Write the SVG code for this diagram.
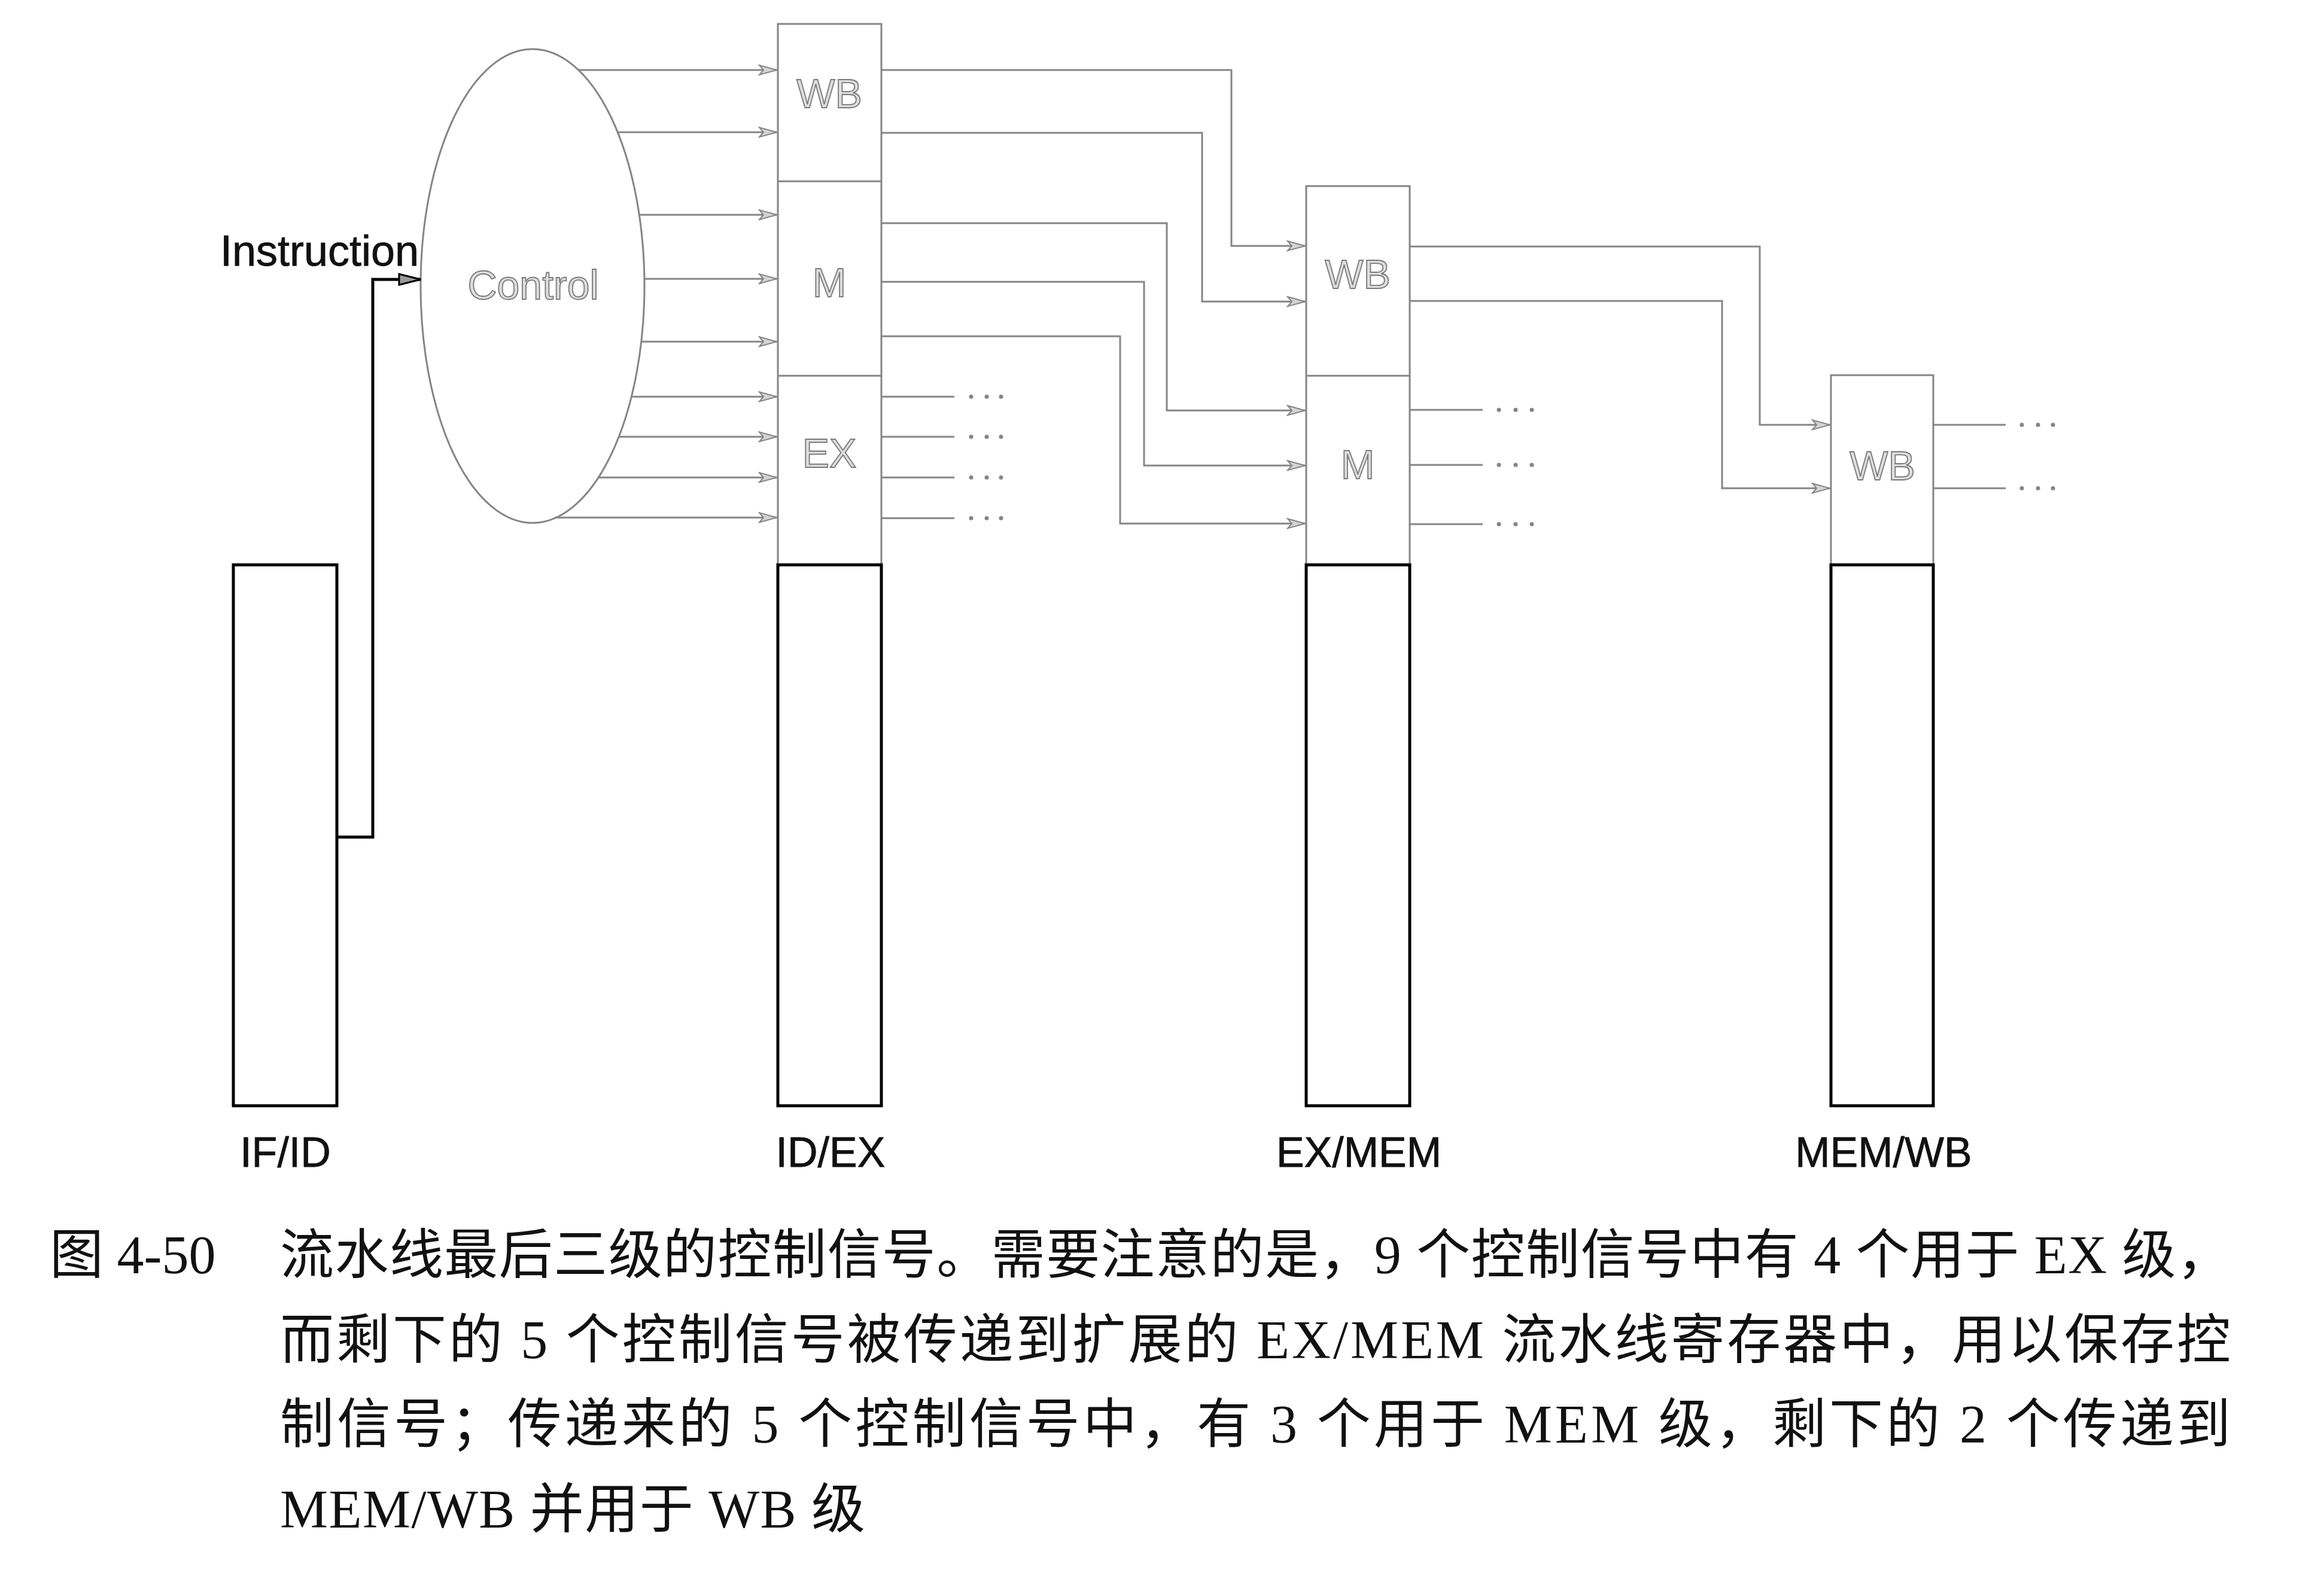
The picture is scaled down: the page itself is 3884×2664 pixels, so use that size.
<svg xmlns="http://www.w3.org/2000/svg" width="3884" height="2664" viewBox="0 0 3884 2664">
  <style>
    .sig { fill: none; stroke: #858585; stroke-width: 3; }
    .sigA { fill: none; stroke: #858585; stroke-width: 3; marker-end: url(#ah); }
    .ctl { fill: #fff; stroke: #858585; stroke-width: 3; }
    .reg { fill: #fff; stroke: #000; stroke-width: 5; }
    .ghost { font-family: "Liberation Sans", Arial, sans-serif; font-size: 68px; fill: #dedede; stroke: #7a7a7a; stroke-width: 1.8; text-anchor: middle; }
    .lbl { font-family: "Liberation Sans", Arial, sans-serif; font-size: 70px; fill: #111; stroke: #111; stroke-width: 0.8; text-anchor: middle; }
    .cap { font-family: "Liberation Serif", "Noto Sans CJK SC", serif; font-size: 90px; fill: #111; }
    .dot { fill: #858585; }
  </style>
  <defs>
    <marker id="ah" markerUnits="userSpaceOnUse" markerWidth="34" markerHeight="20" refX="31" refY="10" orient="auto">
      <path d="M2,2 L31,10 L2,18 L9,10 z" fill="#d4d4d4" stroke="#858585" stroke-width="2"/>
    </marker>
    <marker id="ahk" markerUnits="userSpaceOnUse" markerWidth="40" markerHeight="24" refX="38" refY="12" orient="auto">
      <path d="M2,3 L38,12 L2,21 z" fill="#9a9a9a" stroke="#000" stroke-width="3"/>
    </marker>
  </defs>

  <rect width="3884" height="2664" fill="#fff"/>

  <!-- IF/ID pipeline register -->
  <g id="ifid">
    <rect class="reg" x="390" y="944" width="173" height="904"/>
    <text class="lbl" x="477" y="1950">IF/ID</text>
  </g>

  <!-- Control unit -->
  <g id="control">
    <ellipse class="ctl" cx="890" cy="478" rx="187" ry="396"/>
    <text class="ghost" x="891" y="500">Control</text>
    <text class="lbl" x="534" y="444" style="font-size:72px">Instruction</text>
  </g>

  <!-- ID/EX pipeline register -->
  <g id="idex">
    <rect class="ctl" x="1300" y="40" width="173" height="904"/>
    <line class="sig" x1="1300" y1="303" x2="1473" y2="303"/>
    <line class="sig" x1="1300" y1="628" x2="1473" y2="628"/>
    <rect class="reg" x="1300" y="944" width="173" height="904"/>
    <text class="ghost" x="1386" y="180">WB</text>
    <text class="ghost" x="1386" y="496">M</text>
    <text class="ghost" x="1386" y="781">EX</text>
    <text class="lbl" x="1388" y="1950">ID/EX</text>
  </g>

  <!-- EX/MEM pipeline register -->
  <g id="exmem">
    <rect class="ctl" x="2183" y="311" width="173" height="633"/>
    <line class="sig" x1="2183" y1="628" x2="2356" y2="628"/>
    <rect class="reg" x="2183" y="944" width="173" height="904"/>
    <text class="ghost" x="2269" y="482">WB</text>
    <text class="ghost" x="2269" y="800">M</text>
    <text class="lbl" x="2271" y="1950">EX/MEM</text>
  </g>

  <!-- MEM/WB pipeline register -->
  <g id="memwb">
    <rect class="ctl" x="3060" y="627" width="171" height="317"/>
    <rect class="reg" x="3060" y="944" width="171" height="904"/>
    <text class="ghost" x="3146" y="802">WB</text>
    <text class="lbl" x="3148" y="1950">MEM/WB</text>
  </g>

  <!-- Connectors -->
  <g id="connectors">
    <!-- instruction into control -->
    <path d="M563,1399 H623 V467 H703" fill="none" stroke="#000" stroke-width="5" marker-end="url(#ahk)"/>

    <!-- nine control signals into ID/EX -->
    <line class="sigA" x1="967" y1="117" x2="1298" y2="117"/>
    <line class="sigA" x1="1032" y1="221" x2="1298" y2="221"/>
    <line class="sigA" x1="1068" y1="359" x2="1298" y2="359"/>
    <line class="sigA" x1="1077" y1="466" x2="1298" y2="466"/>
    <line class="sigA" x1="1072" y1="571" x2="1298" y2="571"/>
    <line class="sigA" x1="1055" y1="663" x2="1298" y2="663"/>
    <line class="sigA" x1="1034" y1="730" x2="1298" y2="730"/>
    <line class="sigA" x1="1000" y1="798" x2="1298" y2="798"/>
    <line class="sigA" x1="927" y1="865" x2="1298" y2="865"/>

    <!-- ID/EX WB and M fields forwarded to EX/MEM -->
    <path class="sigA" d="M1473,117 H2058 V411 H2181"/>
    <path class="sigA" d="M1473,222 H2009 V504 H2181"/>
    <path class="sigA" d="M1473,373 H1950 V686 H2181"/>
    <path class="sigA" d="M1473,471 H1912 V778 H2181"/>
    <path class="sigA" d="M1473,562 H1872 V875 H2181"/>

    <!-- EX stage outputs -->
    <line class="sig" x1="1473" y1="663" x2="1595" y2="663"/>
    <line class="sig" x1="1473" y1="730" x2="1595" y2="730"/>
    <line class="sig" x1="1473" y1="798" x2="1595" y2="798"/>
    <line class="sig" x1="1473" y1="866" x2="1595" y2="866"/>
    <g class="dot">
      <circle cx="1623" cy="663" r="3.5"/><circle cx="1649" cy="663" r="3.5"/><circle cx="1673" cy="663" r="3.5"/>
      <circle cx="1623" cy="730" r="3.5"/><circle cx="1649" cy="730" r="3.5"/><circle cx="1673" cy="730" r="3.5"/>
      <circle cx="1623" cy="798" r="3.5"/><circle cx="1649" cy="798" r="3.5"/><circle cx="1673" cy="798" r="3.5"/>
      <circle cx="1623" cy="866" r="3.5"/><circle cx="1649" cy="866" r="3.5"/><circle cx="1673" cy="866" r="3.5"/>
    </g>

    <!-- EX/MEM WB field forwarded to MEM/WB -->
    <path class="sigA" d="M2356,412 H2941 V710 H3058"/>
    <path class="sigA" d="M2356,503 H2878 V816 H3058"/>

    <!-- MEM stage outputs -->
    <line class="sig" x1="2356" y1="685" x2="2478" y2="685"/>
    <line class="sig" x1="2356" y1="777" x2="2478" y2="777"/>
    <line class="sig" x1="2356" y1="876" x2="2478" y2="876"/>
    <g class="dot">
      <circle cx="2505" cy="685" r="3.5"/><circle cx="2533" cy="685" r="3.5"/><circle cx="2560" cy="685" r="3.5"/>
      <circle cx="2505" cy="777" r="3.5"/><circle cx="2533" cy="777" r="3.5"/><circle cx="2560" cy="777" r="3.5"/>
      <circle cx="2505" cy="876" r="3.5"/><circle cx="2533" cy="876" r="3.5"/><circle cx="2560" cy="876" r="3.5"/>
    </g>

    <!-- WB stage outputs -->
    <line class="sig" x1="3231" y1="710" x2="3352" y2="710"/>
    <line class="sig" x1="3231" y1="816" x2="3352" y2="816"/>
    <g class="dot">
      <circle cx="3379" cy="710" r="3.5"/><circle cx="3406" cy="710" r="3.5"/><circle cx="3431" cy="710" r="3.5"/>
      <circle cx="3379" cy="816" r="3.5"/><circle cx="3406" cy="816" r="3.5"/><circle cx="3431" cy="816" r="3.5"/>
    </g>
  </g>

  <!-- Figure caption -->
  <g id="caption">
    <text class="cap" x="83" y="2128">图 4-50</text>
    <text class="cap" x="468" y="2128" textLength="3260" lengthAdjust="spacing">流水线最后三级的控制信号。需要注意的是，9 个控制信号中有 4 个用于 EX 级，</text>
    <text class="cap" x="468" y="2270" textLength="3260" lengthAdjust="spacing">而剩下的 5 个控制信号被传递到扩展的 EX/MEM 流水线寄存器中，用以保存控</text>
    <text class="cap" x="468" y="2411" textLength="3260" lengthAdjust="spacing">制信号；传递来的 5 个控制信号中，有 3 个用于 MEM 级，剩下的 2 个传递到</text>
    <text class="cap" x="468" y="2553" textLength="978" lengthAdjust="spacing">MEM/WB 并用于 WB 级</text>
  </g>
</svg>
